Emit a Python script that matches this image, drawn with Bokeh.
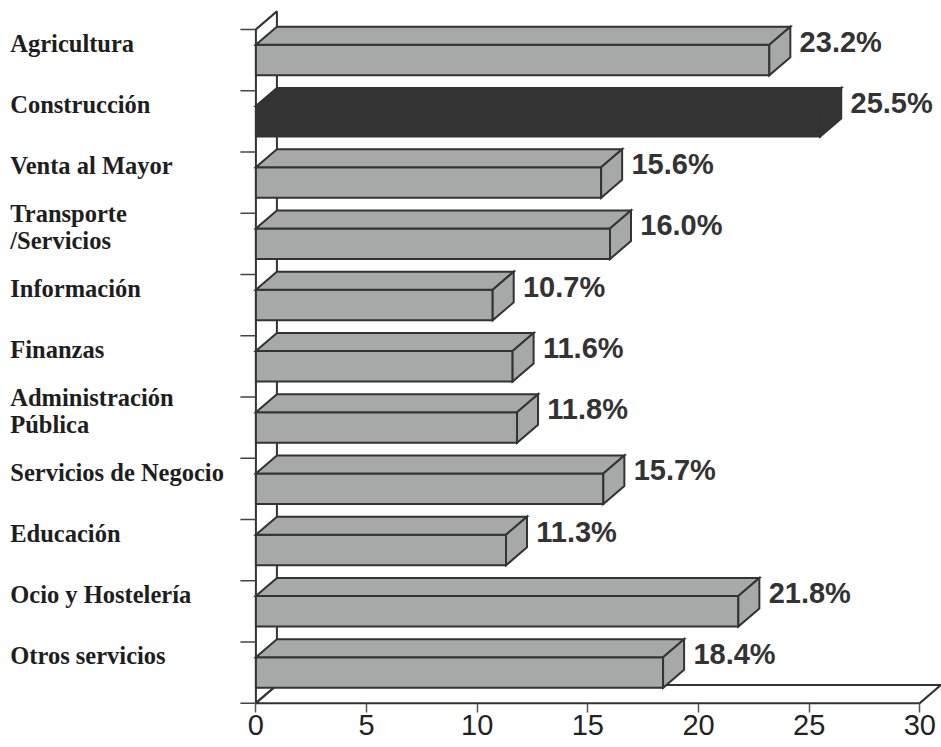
from bokeh.plotting import figure
from bokeh.models import Range1d, FixedTicker
from bokeh.core.properties import value
from bokeh.embed import file_html
from bokeh.resources import INLINE

categories = ["Agricultura", "Construcción", "Venta al Mayor", "Transporte\n/Servicios",
              "Información", "Finanzas", "Administración\nPública", "Servicios de Negocio",
              "Educación", "Ocio y Hostelería", "Otros servicios"]
values = [23.2, 25.5, 15.6, 16.0, 10.7, 11.6, 11.8, 15.7, 11.3, 21.8, 18.4]
highlight = "Construcción"
x_ticks = [0, 5, 10, 15, 20, 25, 30]
x_tick_labels = ["0", "5", "10", "15", "20", "25", "30"]

# 3D geometry (style)
DX = 0.949   # depth offset in x units
DY = 0.294   # depth offset in category units (upward)
H = 0.25     # half height of bar front face
XMAX = 30

GREY = "#a7a9a9"
DARK = "#333333"
EDGE = "#333333"

n = len(categories)
BORDER_B = 35
frame_h = 747 - BORDER_B
PX_PER_CAT = 61.25
y_bottom = (frame_h - 59.5) / PX_PER_CAT
y_top = -59.5 / PX_PER_CAT

p = figure(width=941, height=747, output_backend="svg", toolbar_location=None,
           x_range=Range1d(-11.541, 30.98), y_range=Range1d(y_bottom, y_top),
           y_axis_location=None,
           min_border_left=0, min_border_right=0, min_border_top=0, min_border_bottom=BORDER_B)
p.outline_line_color = None
p.xgrid.visible = False
p.ygrid.visible = False
p.background_fill_color = "white"
p.border_fill_color = "white"

# back wall
top = -0.5
bot = n - 0.5
p.patch([0, 0, DX, DX], [top, bot, bot - DY, top - DY],
        fill_color="white", line_color=EDGE, line_width=2)
# floor
p.patch([0, XMAX, XMAX + DX, DX], [bot, bot, bot - DY, bot - DY],
        fill_color="white", line_color=EDGE, line_width=2)

# left tick marks at band boundaries
tick_ys = [i - 0.5 for i in range(n)] + [bot]
p.segment(x0=[-0.7] * len(tick_ys), y0=tick_ys, x1=[0] * len(tick_ys), y1=tick_ys,
          line_color="#444444", line_width=1.5)

# bars
xs, ys, fills = [], [], []
for i, (c, v) in enumerate(zip(categories, values)):
    col = DARK if c == highlight else GREY
    ft, fb = i - H, i + H
    xs.append([0, v, v, 0]); ys.append([fb, fb, ft, ft]); fills.append(col)
    xs.append([0, v, v + DX, DX]); ys.append([ft, ft, ft - DY, ft - DY]); fills.append(col)
    xs.append([v, v + DX, v + DX, v]); ys.append([ft, ft - DY, fb - DY, fb]); fills.append(col)
p.patches(xs, ys, fill_color=fills, line_color=EDGE, line_width=2, line_join="miter")

# value labels
p.text(x=[v + DX + 0.42 for v in values], y=[i - 0.3 for i in range(n)],
       text=[f"{v:.1f}%" for v in values],
       text_font=value("Liberation Sans"), text_font_style="bold",
       text_font_size="29px", text_color="#333333",
       text_align="left", text_baseline="middle")

# category labels
p.text(x=[-11.1] * n, y=[i - 0.27 for i in range(n)], text=categories,
       text_font=value("Liberation Serif"), text_font_style="bold",
       text_font_size="24.5px", text_color="#1e1e1e", text_line_height=1.0,
       text_align="left", text_baseline="middle")

ax = p.xaxis[0]
ax.ticker = FixedTicker(ticks=x_ticks)
ax.major_label_overrides = {t: l for t, l in zip(x_ticks, x_tick_labels)}
ax.axis_line_color = None
ax.minor_tick_line_color = None
ax.major_tick_in = int(round(frame_h - (59.5 + PX_PER_CAT * bot)))
ax.major_tick_out = 0
ax.major_tick_line_color = "#555555"
ax.major_tick_line_width = 1.5
ax.major_label_standoff = 2
ax.major_label_text_font = "Liberation Sans"
ax.major_label_text_font_size = "29px"
ax.major_label_text_color = "#222222"

open("out.html", "w").write(file_html(p, INLINE))
